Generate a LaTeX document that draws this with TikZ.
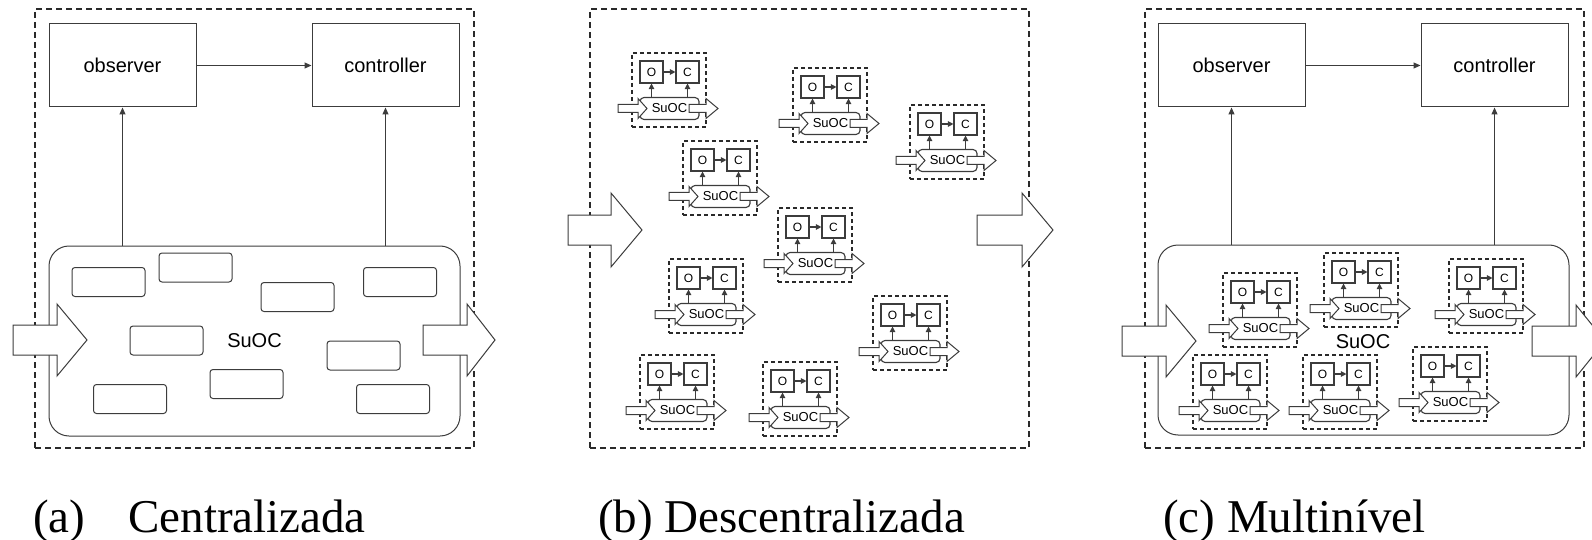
\documentclass[tikz,border=0pt]{standalone}
\usepackage{fontspec}
\setmainfont{Liberation Serif}
\newfontfamily\diagfont{Liberation Sans}
\usetikzlibrary{arrows.meta}

\definecolor{ink}{HTML}{3C3C3C}
\definecolor{fenceink}{HTML}{2A2A2A}

% block arrow: tail x, head base x, tip x, centre y, shaft half-height, head half-height
\newcommand\flowarrow[6]{%
  \draw[flow] (#1,{#4-#5}) -- (#2,{#4-#5}) -- (#2,{#4-#6}) -- (#3,#4)
    -- (#2,{#4+#6}) -- (#2,{#4+#5}) -- (#1,{#4+#5}) -- cycle;}

\tikzset{
  ln/.style={draw=ink, line width=1pt},
  fence/.style={draw=fenceink, line width=1.5pt, dash pattern=on 6pt off 4pt,
    inner sep=0pt, minimum width=439pt, minimum height=439pt},
  ufence/.style={draw=fenceink, line width=1.4pt, dash pattern=on 4pt off 3pt,
    inner sep=0pt, minimum size=74pt},
  mainbox/.style={ln, inner sep=0pt, minimum width=147pt, minimum height=83pt,
    font=\diagfont\fontsize{20}{20}\selectfont},
  system/.style={ln, rounded corners=20pt, inner sep=0pt, minimum width=411pt,
    minimum height=190pt, font=\diagfont\fontsize{20}{20}\selectfont},
  chip/.style={ln, rounded corners=3pt, inner sep=0pt, minimum width=73pt,
    minimum height=29pt},
  flow/.style={ln, fill=white, line join=miter},
  tipline/.style={ln, -{Triangle[length=7pt,width=6pt]}},
  ubox/.style={ln, line width=1.1pt, fill=white, inner sep=0pt, minimum width=23pt,
    minimum height=22pt, font=\diagfont\fontsize{12}{12}\selectfont},
  usys/.style={ln, line width=1.1pt, rounded corners=4pt, inner sep=0pt, minimum width=59pt,
    minimum height=22pt, font=\diagfont\fontsize{13}{13}\selectfont},
  utip/.style={ln, line width=1.1pt, -{Triangle[length=5.5pt,width=5.5pt]}},
  caption/.style={anchor=base west, inner sep=0pt, font=\fontsize{47}{47}\selectfont},
  % a self-organising unit: observer, controller and its own SuOC
  agent/.pic={
    \node[ufence] (-f) at (37,37) {};
    \node[ubox] (-o) at (19.5,19) {O};
    \node[ubox] (-c) at (55.5,19) {C};
    \node[usys] (-s) at (37.5,55.5) {SuOC};
    \draw[utip] (-o) -- (-c);
    \draw[utip] (-s.north -| -o) -- (-o.south);
    \draw[utip] (-s.north -| -c) -- (-c.south);
    \draw[flow] (-14,51.5) -- (6,51.5) -- (6,45.5) -- (15,55.5) -- (6,65.5) -- (6,59.5) -- (-14,59.5) -- cycle;
    \draw[flow] (57,51.5) -- (74,51.5) -- (74,45.5) -- (86,55.5) -- (74,65.5) -- (74,59.5) -- (57,59.5) -- cycle;
  }
}

\begin{document}
\begin{tikzpicture}[x=1pt, y=-1pt]
\clip (0,0) rectangle (1592,540);

% ---------------- (a) centralised ----------------
\node[fence] (frameA) at (254.5,228.5) {};
\node[mainbox] (obsA) at (122.5,65.5) {observer};
\node[mainbox] (ctlA) at (385.5,65.5) {controller};
\node[system] (sysA) at (254.5,341) {SuOC};
\node[chip] (ca1) at (108.5,282) {};
\node[chip] (ca2) at (195.5,267.5) {};
\node[chip] (ca3) at (297.5,297) {};
\node[chip] (ca4) at (400,282) {};
\node[chip] (ca5) at (166.5,340.5) {};
\node[chip] (ca6) at (363.5,355.5) {};
\node[chip] (ca7) at (130,399) {};
\node[chip] (ca8) at (246.5,384) {};
\node[chip] (ca9) at (393,399) {};
\draw[tipline] (obsA) -- (ctlA);
\draw[tipline] (sysA.north -| obsA) -- (obsA.south);
\draw[tipline] (sysA.north -| ctlA) -- (ctlA.south);
\flowarrow{13}{57}{87}{340}{15}{36}
\flowarrow{423}{467}{495}{340}{15}{36}

% ---------------- (b) decentralised ----------------
\node[fence] (frameB) at (809.5,228.5) {};
\pic (b1) at (632,53) {agent};
\pic (b2) at (793,68) {agent};
\pic (b3) at (910,105) {agent};
\pic (b4) at (683,141) {agent};
\pic (b5) at (778,208) {agent};
\pic (b6) at (669,259) {agent};
\pic (b7) at (873,296) {agent};
\pic (b8) at (640,355) {agent};
\pic (b9) at (763,362) {agent};
\flowarrow{568}{611}{642}{230}{15}{37}
\flowarrow{977}{1022}{1053}{230}{15}{37}

% ---------------- (c) multi-level ----------------
\node[fence] (frameC) at (1364.5,228.5) {};
\node[mainbox] (obsC) at (1231.5,65.5) {observer};
\node[mainbox] (ctlC) at (1494.5,65.5) {controller};
\node[system] (sysC) at (1363.5,340) {};
\node[inner sep=0pt, font=\diagfont\fontsize{20}{20}\selectfont] (lblC) at (1363,342) {SuOC};
\draw[tipline] (obsC) -- (ctlC);
\draw[tipline] (sysC.north -| obsC) -- (obsC.south);
\draw[tipline] (sysC.north -| ctlC) -- (ctlC.south);
\pic (c1) at (1223,273) {agent};
\pic (c2) at (1324,253) {agent};
\pic (c3) at (1449,259) {agent};
\pic (c4) at (1193,355) {agent};
\pic (c5) at (1303,355) {agent};
\pic (c6) at (1413,347) {agent};
\flowarrow{1122}{1166}{1196}{341}{15}{36}
\flowarrow{1532}{1576}{1605}{341}{15}{36}

% ---------------- captions ----------------
\node[caption] (capA) at (33,532) {(a)\hspace{43pt}Centralizada};
\node[caption] (capB) at (598,532) {(b) Descentralizada};
\node[caption] (capC) at (1163,532) {(c) Multinível};
\end{tikzpicture}
\end{document}
